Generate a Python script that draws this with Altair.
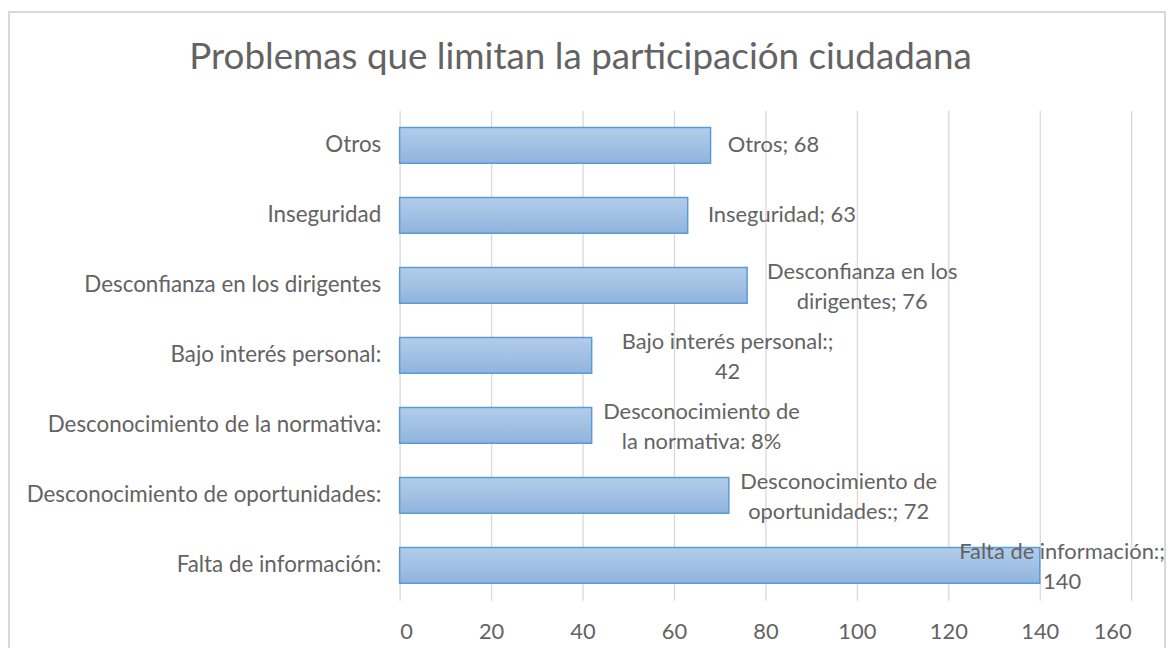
import altair as alt
import pandas as pd

categories = [
    "Otros",
    "Inseguridad",
    "Desconfianza en los dirigentes",
    "Bajo interés personal:",
    "Desconocimiento de la normativa:",
    "Desconocimiento de oportunidades:",
    "Falta de información:",
]
values = [68, 63, 76, 42, 42, 72, 140]
labels = [
    "Otros; 68",
    "Inseguridad; 63",
    "Desconfianza en los\ndirigentes; 76",
    "Bajo interés personal:;\n42",
    "Desconocimiento de\nla normativa: 8%",
    "Desconocimiento de\noportunidades:; 72",
    "Falta de información:;\n140",
]
x_ticks = [0, 20, 40, 60, 80, 100, 120, 140, 160]
title_text = ["Problemas que limitan la participación ciudadana"]

df = pd.DataFrame({"cat": categories, "value": values, "label": labels})
df["maxlen"] = [max(len(s) for s in l.split("\n")) for l in labels]
df["nlines"] = [len(l.split("\n")) for l in labels]

FONT = "Lato"
GREY = "#636363"
W, H = 736, 493
PX_PER_UNIT = W / 160.0
CHAR_W = 10.5
LH = 30

base = alt.Chart(df)

y_enc = alt.Y(
    "cat:N",
    sort=categories,
    scale=alt.Scale(paddingInner=0.49, paddingOuter=0.245),
    axis=alt.Axis(
        title=None, ticks=False, domain=False, labelFontSize=22.5,
        labelColor=GREY, labelFont=FONT, labelPadding=19, labelLimit=500,
    ),
)

bars = base.mark_bar(
    fill=alt.Gradient(
        gradient="linear",
        stops=[alt.GradientStop(color="#b3cdea", offset=0),
               alt.GradientStop(color="#90b4de", offset=1)],
        x1=0, x2=0, y1=0, y2=1,
    ),
    stroke="#5b9bd5",
    strokeWidth=1.5,
).encode(
    x=alt.X(
        "value:Q",
        scale=alt.Scale(domain=[0, 160], nice=False),
        axis=alt.Axis(
            values=x_ticks, title=None, ticks=False, domain=False,
            grid=True, gridColor="#d9d9d9", gridWidth=1.3,
            labelFontSize=22, labelColor=GREY, labelFont=FONT, labelPadding=21,
        ),
    ),
    y=y_enc,
)

text_base = base.transform_calculate(
    hw="datum.maxlen * %f / 2" % CHAR_W,
).transform_calculate(
    pos="min(datum.value + (16 + datum.hw) / %f, 170 - datum.hw / %f)" % (PX_PER_UNIT, PX_PER_UNIT),
)

text_enc = dict(
    x=alt.X("pos:Q"),
    y=alt.Y("cat:N", sort=categories),
    text="label:N",
)

text1 = text_base.transform_filter("datum.nlines == 1").mark_text(
    align="center", baseline="middle", fontSize=22, font=FONT,
    color=GREY, lineBreak="\n", lineHeight=LH,
).encode(**text_enc)

text2 = text_base.transform_filter("datum.nlines == 2").mark_text(
    align="center", baseline="middle", fontSize=22, font=FONT,
    color=GREY, lineBreak="\n", lineHeight=LH, dy=-13,
).encode(**text_enc)

title = alt.Chart(pd.DataFrame({"t": title_text})).mark_text(
    align="center", baseline="alphabetic", fontSize=37, font=FONT, color=GREY,
).encode(x=alt.value(182), y=alt.value(-42), text="t:N")

border = alt.Chart(pd.DataFrame({"a": [0]})).mark_rect(
    fill=None, stroke="#d9d9d9", strokeWidth=2
).encode(
    x=alt.value(-393), x2=alt.value(770), y=alt.value(-99), y2=alt.value(700)
)

chart = alt.layer(border, title, bars, text1, text2).properties(
    width=W,
    height=H,
    autosize=alt.AutoSizeParams(type="none"),
    padding={"left": 394, "top": 101, "right": 37, "bottom": 46},
).configure_view(stroke=None)

chart.save("out.html", embed_options={"renderer": "svg", "actions": False})
